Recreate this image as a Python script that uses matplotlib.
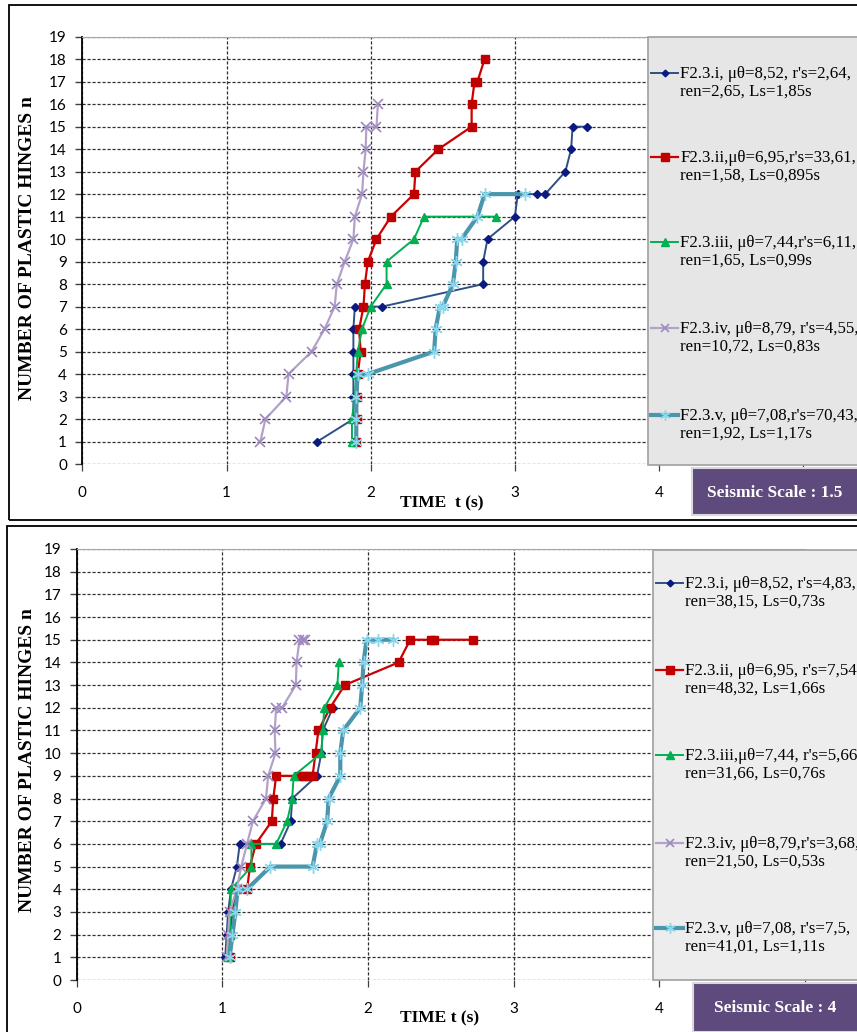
# plastic hinges vs time, two seismic scales
import matplotlib
matplotlib.use('Agg')
import matplotlib.pyplot as plt
from matplotlib.lines import Line2D
from matplotlib.patches import Rectangle

W, H = 857, 1032

# ---- data: seismic scale 1.5 (top) ----
top_i_t = [1.63, 1.88, 1.88, 1.88, 1.88, 1.88, 1.89, 2.08, 2.78, 2.78, 2.81, 3.00, 3.02, 3.15, 3.21, 3.35, 3.39, 3.40, 3.50]
top_i_n = [1, 2, 3, 4, 5, 6, 7, 7, 8, 9, 10, 11, 12, 12, 12, 13, 14, 15, 15]
top_ii_t = [1.90, 1.905, 1.905, 1.91, 1.93, 1.92, 1.95, 1.96, 1.98, 2.04, 2.14, 2.30, 2.31, 2.47, 2.70, 2.70, 2.72, 2.74, 2.79]
top_ii_n = [1, 2, 3, 4, 5, 6, 7, 8, 9, 10, 11, 12, 13, 14, 15, 16, 17, 17, 18]
top_iii_t = [1.87, 1.87, 1.89, 1.90, 1.91, 1.94, 2.00, 2.11, 2.11, 2.30, 2.37, 2.87]
top_iii_n = [1, 2, 3, 4, 5, 6, 7, 8, 9, 10, 11, 11]
top_iv_t = [1.235, 1.27, 1.415, 1.43, 1.59, 1.68, 1.75, 1.765, 1.82, 1.88, 1.89, 1.94, 1.95, 1.965, 1.97, 2.04, 2.05]
top_iv_n = [1, 2, 3, 4, 5, 6, 7, 8, 9, 10, 11, 12, 13, 14, 15, 15, 16]
top_v_t = [1.90, 1.90, 1.90, 1.91, 1.98, 2.44, 2.45, 2.48, 2.50, 2.57, 2.59, 2.60, 2.63, 2.74, 2.79, 3.07]
top_v_n = [1, 2, 3, 4, 4, 5, 6, 7, 7, 8, 9, 10, 10, 11, 12, 12]

top_labels = [
    "F2.3.i, \u03bc\u03b8=8,52, r's=2,64,\nren=2,65, Ls=1,85s",
    "F2.3.ii,\u03bc\u03b8=6,95,r's=33,61,\nren=1,58, Ls=0,895s",
    "F2.3.iii, \u03bc\u03b8=7,44,r's=6,11,\nren=1,65, Ls=0,99s",
    "F2.3.iv, \u03bc\u03b8=8,79, r's=4,55,\nren=10,72, Ls=0,83s",
    "F2.3.v, \u03bc\u03b8=7,08,r's=70,43,\nren=1,92, Ls=1,17s",
]

# ---- data: seismic scale 4 (bottom) ----
bot_i_t = [1.02, 1.03, 1.04, 1.06, 1.10, 1.12, 1.40, 1.47, 1.48, 1.65, 1.68, 1.69, 1.76]
bot_i_n = [1, 2, 3, 4, 5, 6, 6, 7, 8, 9, 10, 11, 12]
bot_ii_t = [1.05, 1.05, 1.07, 1.10, 1.17, 1.19, 1.23, 1.34, 1.35, 1.37, 1.53, 1.56, 1.59, 1.62, 1.64, 1.66, 1.74, 1.84, 2.21, 2.29, 2.43, 2.45, 2.72]
bot_ii_n = [1, 2, 3, 4, 4, 5, 6, 7, 8, 9, 9, 9, 9, 9, 10, 11, 12, 13, 14, 15, 15, 15, 15]
bot_iii_t = [1.04, 1.055, 1.055, 1.06, 1.20, 1.20, 1.37, 1.445, 1.48, 1.49, 1.68, 1.69, 1.70, 1.79, 1.80]
bot_iii_n = [1, 2, 3, 4, 5, 6, 6, 7, 8, 9, 10, 11, 12, 13, 14]
bot_iv_t = [1.03, 1.04, 1.05, 1.10, 1.13, 1.17, 1.21, 1.30, 1.315, 1.365, 1.36, 1.37, 1.41, 1.505, 1.51, 1.53, 1.555, 1.57]
bot_iv_n = [1, 2, 3, 4, 5, 6, 7, 8, 9, 10, 11, 12, 12, 13, 14, 15, 15, 15]
bot_v_t = [1.05, 1.07, 1.09, 1.105, 1.17, 1.33, 1.62, 1.65, 1.67, 1.72, 1.73, 1.81, 1.81, 1.83, 1.947, 1.96, 1.97, 1.99, 2.07, 2.17]
bot_v_n = [1, 2, 3, 4, 4, 5, 5, 6, 6, 7, 8, 9, 10, 11, 12, 13, 14, 15, 15, 15]

bot_labels = [
    "F2.3.i, \u03bc\u03b8=8,52, r's=4,83,\nren=38,15, Ls=0,73s",
    "F2.3.ii, \u03bc\u03b8=6,95, r's=7,54\nren=48,32, Ls=1,66s",
    "F2.3.iii,\u03bc\u03b8=7,44, r's=5,66\nren=31,66, Ls=0,76s",
    "F2.3.iv, \u03bc\u03b8=8,79,r's=3,68,\nren=21,50, Ls=0,53s",
    "F2.3.v, \u03bc\u03b8=7,08, r's=7,5,\nren=41,01, Ls=1,11s",
]

ticks_x = [0, 1, 2, 3, 4]
ticks_y = list(range(0, 20))

# series styles: line colour, marker, marker colour, marker size, line width
styles = [
    dict(color='#2f4f86', marker='D', mfc='#0a1a80', mec='#0a1a80', ms=4, lw=1.4),
    dict(color='#cc0000', marker='s', mfc='#c00000', mec='#c00000', ms=6, lw=1.6),
    dict(color='#00b050', marker='^', mfc='#00b050', mec='#00b050', ms=6, lw=1.4),
    dict(color='#b3a2c7', marker='x', mfc='#9f88c2', mec='#9f88c2', ms=7, lw=1.6, mew=1.2),
    dict(color='#4a96ad', marker=(6, 2, 0), mfc='#8ad6ec', mec='#8ad6ec', ms=9, lw=3.0, mew=1.0),
]

SERIF = 'Liberation Serif'
SANS = 'Lato'


def fx(x):
    return x / W


def fy(y):
    return 1 - y / H


fig = plt.figure(figsize=(W / 100, H / 100), dpi=100)


def panel(ax_box, series, labels, leg_box, entry_y, scale_box, scale_text, ylab_y, xlab_xy, leg_color, frame):
    # chart frame
    fig.add_artist(Rectangle((fx(frame[0]), fy(frame[3])), fx(frame[2] - frame[0]), (frame[3] - frame[1]) / H,
                             transform=fig.transFigure, fill=False, ec='black', lw=1.3))
    l, t, r, b = ax_box
    ax = fig.add_axes([fx(l), fy(b), fx(r - l), (b - t) / H])
    for (tt, nn), st in zip(series, styles):
        ax.plot(tt, nn, **st)
    ax.set_xlim(0, 5)
    ax.set_ylim(0, 19)
    ax.set_xticks([0, 1, 2, 3, 4, 5])
    ax.set_xticklabels([str(v) for v in ticks_x] + [''])
    ax.set_yticks(ticks_y)
    ax.grid(True, color='#303030', ls=(0, (2.5, 1.5)), lw=0.9)
    ax.set_axisbelow(True)
    for s in ['bottom', 'right']:
        ax.spines[s].set_visible(False)
    ax.spines['top'].set_color('#a6a6a6')
    ax.spines['left'].set_color('black')
    ax.spines['left'].set_linewidth(1.3)
    ax.tick_params(axis='y', length=5, width=1, color='#404040', pad=6, labelsize=11)
    ax.tick_params(axis='x', length=5, width=0.9, color='#404040', pad=11, labelsize=11)
    for lab in ax.get_xticklabels() + ax.get_yticklabels():
        lab.set_fontfamily(SANS)
    # y label
    fig.text(fx(28), fy(ylab_y), 'NUMBER OF PLASTIC HINGES n', rotation=90, ha='center', va='center',
             family=SERIF, weight='bold', fontsize=14)
    fig.text(fx(xlab_xy[0]), fy(xlab_xy[1]), xlab_xy[2], ha='center', va='center',
             family=SERIF, weight='bold', fontsize=12.5)
    # legend box
    lx0, ly0, ly1 = leg_box
    fig.add_artist(Rectangle((fx(lx0), fy(ly1)), fx(W + 5 - lx0), (ly1 - ly0) / H, transform=fig.transFigure,
                             fc=leg_color, ec='#a0a0a0', lw=1.2, zorder=5))
    for k, (lab, st) in enumerate(zip(labels, styles)):
        y0 = entry_y[k]
        fig.add_artist(Line2D([fx(lx0 + 3), fx(lx0 + 30)], [fy(y0), fy(y0)], transform=fig.transFigure,
                              color=st['color'], lw=st['lw'], zorder=6))
        fig.add_artist(Line2D([fx(lx0 + 16.5)], [fy(y0)], transform=fig.transFigure, ls='none',
                              marker=st['marker'], mfc=st['mfc'], mec=st['mec'], ms=st['ms'] * 0.85,
                              mew=st.get('mew', 1), zorder=7))
        fig.text(fx(lx0 + 32), fy(y0 + 9.5), lab, ha='left', va='center', family=SERIF, fontsize=12.2,
                 linespacing=1.12, zorder=8)
    # seismic scale box
    sx0, sy0, sy1 = scale_box
    fig.add_artist(Rectangle((fx(sx0), fy(sy1)), fx(W + 5 - sx0), (sy1 - sy0) / H, transform=fig.transFigure,
                             fc='#5f4a7d', ec='#d9d9d9', lw=1.5, zorder=5))
    fig.text(fx(775), fy((sy0 + sy1) / 2 + 1), scale_text, ha='center', va='center', family=SERIF,
             weight='bold', fontsize=12.5, color='white', zorder=8)
    return ax


top_series = [(top_i_t, top_i_n), (top_ii_t, top_ii_n), (top_iii_t, top_iii_n), (top_iv_t, top_iv_n), (top_v_t, top_v_n)]
bot_series = [(bot_i_t, bot_i_n), (bot_ii_t, bot_ii_n), (bot_iii_t, bot_iii_n), (bot_iv_t, bot_iv_n), (bot_v_t, bot_v_n)]

panel((82.3, 36.7, 803.3, 464), top_series, top_labels, (648.3, 37.3, 465),
      [73, 157, 242, 328, 415], (692, 468, 515), 'Seismic Scale : 1.5', 248, (442, 503, 'TIME  t (s)'),
      '#e6e6e6', (9.3, 5, W + 5, 520))
panel((76.6, 549, 805, 980), bot_series, bot_labels, (653, 550, 980),
      [583, 670, 755, 843, 928], (693, 983, 1032), 'Seismic Scale : 4', 760, (440, 1018, 'TIME t (s)'),
      '#ededed', (7.5, 525.7, W + 5, H + 5))

fig.savefig('out.png', dpi=100)
